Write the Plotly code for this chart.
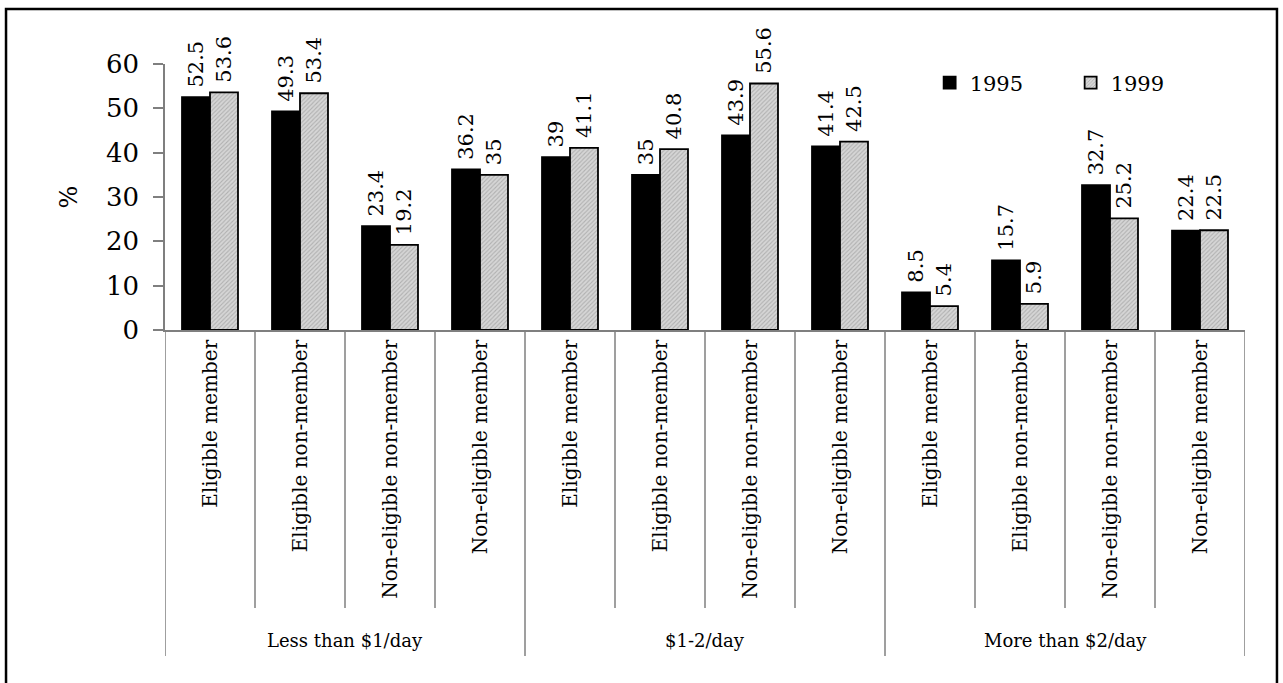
import plotly.graph_objects as go

groups = ["Less than $1/day", "$1-2/day", "More than $2/day"]
categories = ["Eligible member", "Eligible non-member",
              "Non-eligible non-member", "Non-eligible member"]
series_names = ["1995", "1999"]
values_1995 = [52.5, 49.3, 23.4, 36.2, 39, 35, 43.9, 41.4, 8.5, 15.7, 32.7, 22.4]
values_1999 = [53.6, 53.4, 19.2, 35, 41.1, 40.8, 55.6, 42.5, 5.4, 5.9, 25.2, 22.5]
y_ticks = [0, 10, 20, 30, 40, 50, 60]

FONT = "DejaVu Serif"
n_cat = len(categories)
labels = [c for g in groups for c in categories]
xs = list(range(len(labels)))
PAD = "\u00a0"

fig = go.Figure()
fig.add_trace(go.Bar(
    x=xs, y=values_1995, name=series_names[0],
    marker=dict(color="black", line=dict(color="black", width=1.8)),
    text=[PAD + f"{v:g}" for v in values_1995], textposition="outside",
    textangle=-90, constraintext="none",
    textfont=dict(family=FONT, size=21, color="black"),
    cliponaxis=False,
))
fig.add_trace(go.Bar(
    x=xs, y=values_1999, name=series_names[1],
    marker=dict(color="#cfcfcf", line=dict(color="black", width=1.8),
                pattern=dict(shape="/", fgcolor="#8a8a8a", bgcolor="#d6d6d6",
                             size=3, solidity=0.35)),
    text=[PAD + f"{v:g}" for v in values_1999], textposition="outside",
    textangle=-90, constraintext="none",
    textfont=dict(family=FONT, size=21, color="black"),
    cliponaxis=False,
))

shapes = []
# separators between categories
for i in range(len(labels) + 1):
    b = i - 0.5
    is_group = (i % n_cat == 0)
    shapes.append(dict(type="line", xref="x", yref="paper", x0=b, x1=b,
                       y0=0, y1=-1.2256 if is_group else -1.045,
                       line=dict(color="#7f7f7f", width=1.5)))
# outer frame
shapes.append(dict(type="rect", xref="paper", yref="paper",
                   x0=-0.1472, x1=1.0296, y0=-1.5, y1=1.2068,
                   line=dict(color="black", width=2.5)))

annotations = []
for gi, g in enumerate(groups):
    annotations.append(dict(x=gi * n_cat + (n_cat - 1) / 2, xref="x",
                            y=-1.169, yref="paper", text=g, showarrow=False,
                            xanchor="center", yanchor="middle",
                            font=dict(family=FONT, size=18, color="black")))

fig.update_layout(
    width=1283, height=683,
    margin=dict(l=165, r=38, t=64, b=353),
    paper_bgcolor="white", plot_bgcolor="white",
    barmode="group", bargap=0.378, bargroupgap=0,
    font=dict(family=FONT, color="black"),
    shapes=shapes, annotations=annotations,
    legend=dict(orientation="h", x=0.708, y=0.9286, xanchor="left",
                yanchor="middle", font=dict(family=FONT, size=21, color="black"),
                entrywidth=96, entrywidthmode="pixels", itemwidth=30,
                bgcolor="rgba(0,0,0,0)"),
    xaxis=dict(range=[-0.5, len(labels) - 0.5], tickmode="array", tickvals=xs,
               ticktext=labels, tickangle=-90, ticks="", showgrid=False,
               zeroline=False, showline=True, linecolor="#7f7f7f", linewidth=1.5,
               tickfont=dict(family=FONT, size=20, color="black")),
    yaxis=dict(range=[0, 60], tickmode="array", tickvals=y_ticks,
               ticks="outside", ticklen=10, tickcolor="#7f7f7f", tickwidth=1.5,
               ticklabelstandoff=9,
               showgrid=False, zeroline=False, showline=True,
               linecolor="#7f7f7f", linewidth=1.5,
               tickfont=dict(family=FONT, size=26, color="black"),
               title=dict(text="%", standoff=22,
                          font=dict(family=FONT, size=24, color="black"))),
)

fig.write_html("out.html")
